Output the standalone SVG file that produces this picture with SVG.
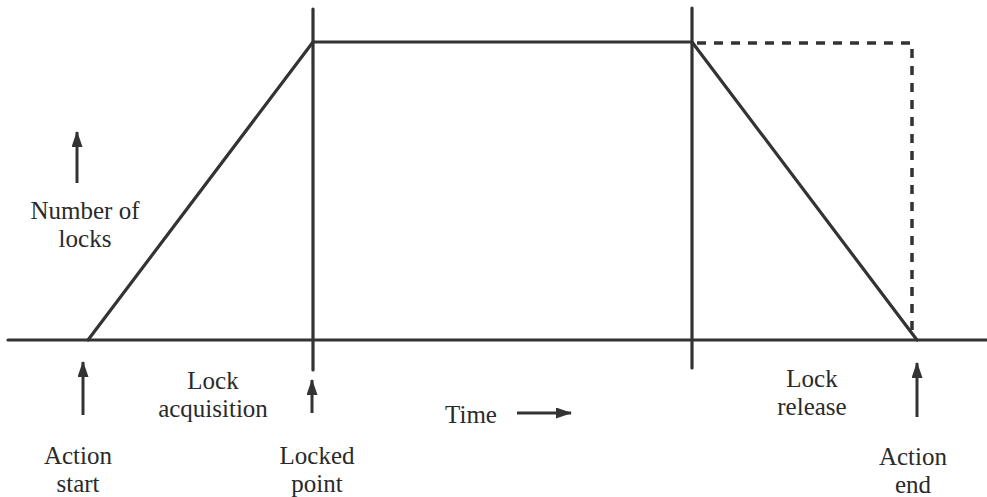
<svg xmlns="http://www.w3.org/2000/svg" width="987" height="497" viewBox="0 0 987 497">
<style>
.ln{stroke:#333;stroke-width:3.2;fill:none;stroke-linecap:round;stroke-linejoin:round}
.dash{stroke:#333;stroke-width:3.5;fill:none;stroke-dasharray:9 8}
.ar{stroke:#333;stroke-width:3;fill:none;marker-end:url(#ah)}
text{font-family:"Liberation Serif","Times New Roman",serif;font-size:25px;fill:#2a2a2a;text-anchor:middle}
</style>
<defs>
<marker id="ah" markerUnits="userSpaceOnUse" markerWidth="17" markerHeight="12" refX="15" refY="5.5" orient="auto">
<path d="M0,0 L16,5.5 L0,11 Z" fill="#333"/>
</marker>
</defs>
<rect width="987" height="497" fill="#fff"/>
<g id="connectors">
<line class="ln" x1="8" y1="340" x2="987" y2="340"/>
<line class="ln" x1="313" y1="9" x2="313" y2="370"/>
<line class="ln" x1="692" y1="8" x2="692" y2="368"/>
<polyline class="ln" points="88,340 313,42 692,42 917,340"/>
<polyline class="dash" points="697,43 912,43 912,330"/>
<line class="ar" x1="77" y1="183" x2="77" y2="132"/>
<line class="ar" x1="83" y1="415" x2="83" y2="362"/>
<line class="ar" x1="312" y1="413" x2="312" y2="380"/>
<line class="ar" x1="917" y1="417" x2="917" y2="363"/>
<line class="ar" x1="517" y1="413" x2="571" y2="413"/>
</g>
<g id="y-label"><text x="85" y="219"><tspan x="85">Number of</tspan><tspan x="85" dy="28">locks</tspan></text></g>
<g id="lock-acquisition"><text x="213" y="389"><tspan x="213">Lock</tspan><tspan x="213" dy="28">acquisition</tspan></text></g>
<g id="action-start"><text x="78" y="464"><tspan x="78">Action</tspan><tspan x="78" dy="28">start</tspan></text></g>
<g id="locked-point"><text x="317" y="464"><tspan x="317">Locked</tspan><tspan x="317" dy="28">point</tspan></text></g>
<g id="time"><text x="471" y="423">Time</text></g>
<g id="lock-release"><text x="812" y="387"><tspan x="812">Lock</tspan><tspan x="812" dy="28">release</tspan></text></g>
<g id="action-end"><text x="913" y="465"><tspan x="913">Action</tspan><tspan x="913" dy="28">end</tspan></text></g>
</svg>
